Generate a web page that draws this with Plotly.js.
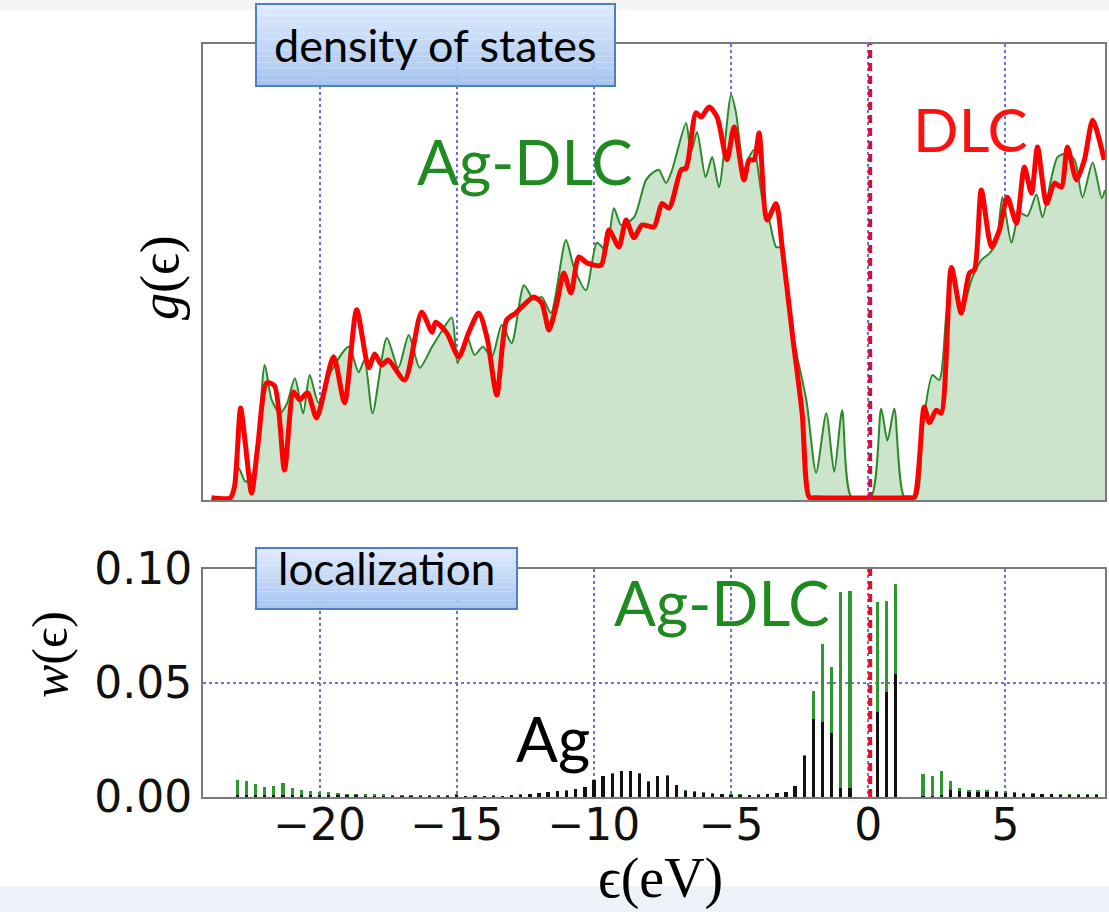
<!DOCTYPE html>
<html><head><meta charset="utf-8">
<script src="https://cdn.plot.ly/plotly-3.0.1.min.js"></script>
<style>html,body{margin:0;padding:0;background:#fff}#chart{width:1109px;height:912px}</style>
</head><body><div id="chart"></div>
<script>
// ---- density of states g(eps), arbitrary units ----
const dlcEnergy = [-23.94,-23.25,-23.10,-22.88,-22.70,-22.48,-22.25,-21.93,-21.64,-21.28,-20.95,-20.73,-20.44,-20.11,-19.49,-19.09,-18.65,-18.21,-17.99,-17.74,-17.50,-16.90,-16.28,-15.90,-15.77,-15.36,-14.93,-14.56,-14.20,-13.90,-13.54,-13.18,-12.85,-12.55,-12.19,-11.90,-11.64,-11.35,-11.10,-10.84,-10.55,-10.26,-9.74,-9.45,-9.09,-8.83,-8.54,-8.25,-7.81,-7.52,-7.26,-6.82,-6.64,-6.28,-6.09,-5.80,-5.51,-5.15,-4.89,-4.53,-4.34,-4.16,-3.98,-3.69,-3.36,-3.14,-2.77,-2.41,-2.15,-1.90,1.45,1.68,2.04,2.23,2.48,2.66,3.03,3.39,3.69,3.87,4.12,4.49,4.78,5.07,5.40,5.69,5.95,6.17,6.50,6.79,7.04,7.26,7.59,7.88,8.18,8.60];
const dlcDos = [0.5,0.5,3,20.2,12,1.5,12,25.7,25.0,6.6,23.7,22.0,23.5,18.0,31.4,21.3,41.7,29.0,32.0,29.6,30.7,26.3,41.2,36.8,39.0,36.6,31.4,36.8,41.0,35.7,23.0,39.5,41.0,42.8,44.5,43.2,37.3,43.2,49.8,45.4,53.3,52.0,51.5,59.2,55.5,61.4,57.5,60.3,59.9,65.0,64.0,72.4,72.8,84.9,84.0,86.2,84.0,74.6,81.8,70.2,74.6,74.6,80.5,61.4,65.0,55.5,36.6,19.0,0.6,0.5,0.5,0.6,20.4,17.0,19.7,19.0,51.0,41.0,49.8,50.5,68.0,55.5,59.2,66.4,60.7,73.0,67.3,77.4,65.0,69.5,68.6,77.4,70.2,74.6,83.3,74.6];
const agdlcEnergy = [-23.94,-23.25,-22.95,-22.70,-22.40,-22.00,-21.75,-21.45,-21.20,-20.90,-20.60,-20.36,-20.04,-19.60,-18.94,-18.58,-18.36,-18.07,-17.55,-17.13,-16.75,-16.35,-15.90,-15.55,-15.18,-14.97,-14.64,-14.35,-14.05,-13.72,-13.36,-13.00,-12.55,-12.19,-11.90,-11.57,-11.02,-10.73,-10.29,-9.89,-9.56,-9.27,-9.01,-8.54,-8.10,-7.80,-7.63,-7.37,-7.15,-6.64,-6.46,-6.24,-5.93,-5.69,-5.44,-5.00,-4.82,-4.53,-4.34,-4.16,-3.87,-3.61,-3.36,-3.18,-2.77,-2.26,-1.90,-1.53,-1.24,-0.95,-0.62,0.10,0.47,0.70,0.95,1.31,1.75,1.97,2.34,2.59,2.85,3.07,3.43,3.76,4.12,4.42,4.67,4.89,5.22,5.51,5.80,6.13,6.35,6.68,6.90,7.22,7.52,7.81,8.18,8.51,8.63];
const agdlcDos = [0.3,0.5,7,4,6,29.6,22.0,19.0,21.0,26.7,19.0,27.4,21.3,28.0,33.6,28.0,30.7,19.0,35.5,29.0,36.2,29.0,33.6,37.0,40.0,30.0,36.0,31.8,33.6,31.4,38.4,34.4,47.1,43.9,44.5,41.0,57.0,51.0,46.0,56.4,54.8,64.0,60.3,62.0,70.2,72.0,72.4,69.5,72.4,82.7,76.3,80.7,70.8,75.2,68.6,88.8,84.9,72.4,75.2,76.8,66.4,61.4,55.5,55.3,36.6,22.0,6.0,19.0,6.2,19.7,0.7,0.7,20.0,13.0,20.0,0.7,0.7,15.0,27.4,26.3,41.0,49.0,41.7,48.2,52.6,54.1,56.4,66.4,56.4,63.0,62.3,67.0,62.0,70.8,75.2,76.0,74.6,66.4,74.0,66.2,68.0];

// ---- localization w(eps) ----
const binEnergy = [-23.00,-22.67,-22.33,-22.00,-21.67,-21.33,-21.00,-20.67,-20.33,-20.00,-19.67,-19.33,-19.00,-18.67,-18.33,-18.00,-17.67,-17.33,-17.00,-16.67,-16.33,-16.00,-15.67,-15.33,-15.00,-14.67,-14.33,-14.00,-13.67,-13.33,-13.00,-12.67,-12.33,-12.00,-11.67,-11.33,-11.00,-10.67,-10.33,-10.00,-9.67,-9.33,-9.00,-8.67,-8.33,-8.00,-7.67,-7.33,-7.00,-6.67,-6.33,-6.00,-5.67,-5.33,-5.00,-4.67,-4.33,-4.00,-3.67,-3.33,-3.00,-2.67,-2.33,-2.00,-1.67,-1.33,-1.00,-0.67,-0.33,0.00,0.33,0.67,1.00,1.33,1.67,2.00,2.33,2.67,3.00,3.33,3.67,4.00,4.33,4.67,5.00,5.33,5.67,6.00,6.33,6.67,7.00,7.33,7.67,8.00,8.33];
const agdlcW = [0.0075,0.0070,0.0055,0.0045,0.0048,0.0062,0.0040,0.0032,0.0028,0.0022,0.0020,0.0017,0.0015,0.0014,0.0012,0.0012,0.0011,0.0010,0.0010,0.0009,0.0009,0.0008,0.0008,0.0007,0.0012,0.0006,0.0008,0.0006,0.0008,0.0006,0.0010,0.0012,0.0015,0.0018,0.0022,0.0027,0.0030,0.0037,0.0044,0.0075,0.0092,0.0105,0.0114,0.0114,0.0105,0.0070,0.0092,0.0096,0.0053,0.0030,0.0026,0.0020,0.0016,0.0014,0.0012,0.0011,0.0010,0.0012,0.0014,0.0019,0.0023,0.0050,0.0185,0.0465,0.0670,0.0570,0.0900,0.0905,0,0,0.0855,0.0860,0.0935,0,0,0.0100,0.0092,0.0114,0.0070,0.0040,0.0030,0.0030,0.0030,0.0027,0.0025,0.0022,0.0018,0.0018,0.0015,0.0015,0.0013,0.0013,0.0012,0.0012,0.0012];
const agW = [0.0010,0.0010,0.0008,0.0008,0.0008,0.0010,0.0008,0.0008,0.0008,0.0008,0.0007,0.0007,0.0007,0.0007,0.0006,0.0006,0.0006,0.0006,0.0005,0.0005,0.0005,0.0005,0.0005,0.0005,0.0008,0.0004,0.0005,0.0004,0.0006,0.0004,0.0008,0.0010,0.0013,0.0016,0.0020,0.0025,0.0028,0.0035,0.0042,0.0073,0.0090,0.0103,0.0112,0.0112,0.0103,0.0068,0.0090,0.0094,0.0051,0.0028,0.0024,0.0018,0.0014,0.0012,0.0010,0.0009,0.0008,0.0010,0.0012,0.0017,0.0021,0.0048,0.0182,0.0342,0.0330,0.0280,0.0040,0.0040,0,0,0.0373,0.0460,0.0540,0,0,0.0005,0.0005,0.0008,0.0030,0.0025,0.0022,0.0022,0.0022,0.0020,0.0018,0.0016,0.0014,0.0014,0.0012,0.0012,0.0010,0.0010,0.0010,0.0010,0.0010];

const tickVals = [-20,-15,-10,-5,0,5];
const tickText = ['\u221220','\u221215','\u221210','\u22125','0','5'];
const wTickVals = [0,0.05,0.1];
const wTickText = ['0.00','0.05','0.10'];
const fermiLevel = 0.07;

// ---- geometry helpers (pixel -> paper) ----
const W = 1109, H = 912;
const px = v => v / W;
const py = v => 1 - v / H;
const xRange = [-24.25, 8.63];
const xDom = [px(203), px(1105)];
const topDom = [py(500), py(44)];
const botDom = [py(797), py(569)];

const gridStyle = {showgrid:true, gridcolor:'#7071d4', griddash:'dot', gridwidth:2};
const frame = {showline:true, mirror:true, linecolor:'#7a7a7a', linewidth:2, zeroline:false};

const traces = [
  {x: agdlcEnergy, y: agdlcDos, xaxis:'x2', yaxis:'y2', type:'scatter', mode:'lines',
   line:{color:'#2a8a2a', width:2, shape:'spline', smoothing:0.7},
   fill:'tozeroy', fillcolor:'rgb(205,228,204)', hoverinfo:'skip'},
  {x: dlcEnergy, y: dlcDos, xaxis:'x2', yaxis:'y2', type:'scatter', mode:'lines',
   line:{color:'#ff0000', width:5, shape:'spline', smoothing:0.7}, hoverinfo:'skip'},
  {x: binEnergy, y: agdlcW, xaxis:'x', yaxis:'y', type:'bar', width:0.12,
   marker:{color:'#2f972f', line:{width:0}}, hoverinfo:'skip'},
  {x: binEnergy, y: agW, xaxis:'x', yaxis:'y', type:'bar', width:0.12,
   marker:{color:'#111111', line:{width:0}}, hoverinfo:'skip'}
];

const shapes = [
  {type:'rect', xref:'paper', yref:'paper', x0:0, x1:1, y0:py(912), y1:py(886), fillcolor:'#eef1f7', line:{width:0}, layer:'below'},
  {type:'rect', xref:'paper', yref:'paper', x0:0, x1:1, y0:py(10), y1:py(0), fillcolor:'#f4f5f7', line:{width:0}, layer:'below'},
  {type:'line', xref:'x2', yref:'y2 domain', x0:fermiLevel, x1:fermiLevel, y0:0, y1:1, line:{color:'#cf1040', width:4, dash:'8px,5px'}},
  {type:'line', xref:'x', yref:'y domain', x0:fermiLevel, x1:fermiLevel, y0:0, y1:1, line:{color:'#e0102a', width:4, dash:'8px,5px'}}
];
function gradientBox(x0, x1, y0, y1) {
  const n = 14;
  const top = [224,235,252], bot = [165,196,241];
  for (let i = 0; i < n; i++) {
    const t = (i + 0.5) / n;
    const c = top.map((v, k) => Math.round(v + (bot[k] - v) * t));
    const a = y0 + (y1 - y0) * i / n, b = y0 + (y1 - y0) * (i + 1) / n;
    shapes.push({type:'rect', xref:'paper', yref:'paper', x0:px(x0), x1:px(x1), y0:py(b), y1:py(a),
      fillcolor:'rgb(' + c.join(',') + ')', line:{width:0}, layer:'above'});
  }
  shapes.push({type:'rect', xref:'paper', yref:'paper', x0:px(x0), x1:px(x1), y0:py(y1), y1:py(y0),
    fillcolor:'rgba(0,0,0,0)', line:{color:'#4f7fc0', width:2}, layer:'above'});
}
gradientBox(256, 615, 4, 86);
gradientBox(256, 517, 548, 609);

const lato = 'Lato, Carlito, "Open Sans", sans-serif';
const serif = '"Liberation Serif", "DejaVu Serif", serif';
function ann(text, x, y, size, color, family, extra) {
  return Object.assign({text:text, xref:'paper', yref:'paper', x:px(x), y:py(y),
    xanchor:'center', yanchor:'middle', showarrow:false,
    font:{family:family, size:size, color:color}}, extra || {});
}
const annotations = [
  ann('density of states', 435, 45, 45, '#000', lato),
  ann('localization', 386, 568, 44, '#000', lato),
  ann('Ag-DLC', 525, 161, 62, '#1f8a1f', lato),
  ann('DLC', 970, 129, 60, '#ff1010', lato),
  ann('Ag-DLC', 722, 602, 62, '#1f8a1f', lato),
  ann('Ag', 553, 738, 62, '#000', lato),
  ann('\u03f5(eV)', 660, 878, 56, '#000', serif),
  ann('<i>g</i>(\u03f5)', 160, 278, 54, '#000', serif, {textangle:-90}),
  ann('<i>w</i>(\u03f5)', 50, 655, 50, '#000', serif, {textangle:-90})
];

const layout = {
  width: W, height: H, margin:{l:0, r:0, t:0, b:0},
  paper_bgcolor:'#ffffff', plot_bgcolor:'#ffffff',
  showlegend:false, barmode:'overlay', bargap:0,
  xaxis: Object.assign({domain:xDom, anchor:'y', range:xRange, tickvals:tickVals, ticktext:tickText,
    tickfont:{family:'DejaVu Sans', size:44, color:'#111'}, ticks:'', ticklabelstandoff:-12}, gridStyle, frame),
  yaxis: Object.assign({domain:botDom, anchor:'x', range:[0,0.1], tickvals:wTickVals, ticktext:wTickText,
    tickfont:{family:'DejaVu Sans', size:44, color:'#111'}, ticks:'', ticklabelstandoff:0}, gridStyle, frame),
  xaxis2: Object.assign({domain:xDom, anchor:'y2', range:xRange, tickvals:tickVals, showticklabels:false, ticks:''}, gridStyle, frame),
  yaxis2: Object.assign({domain:topDom, anchor:'x2', range:[0,100], showticklabels:false, ticks:'', showgrid:false}, frame),
  shapes: shapes,
  annotations: annotations
};

Plotly.newPlot('chart', traces, layout, {staticPlot:true});
</script>
</body></html>
